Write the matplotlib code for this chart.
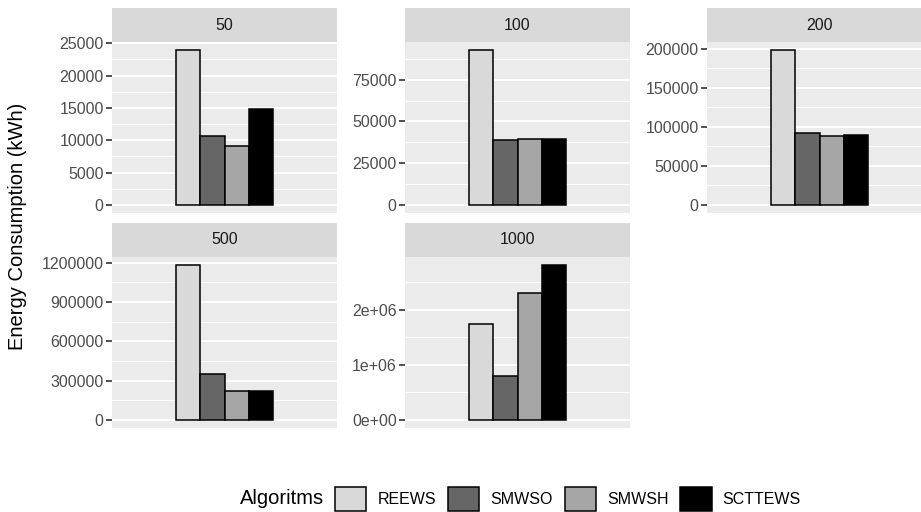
import numpy as np
import matplotlib
matplotlib.use("Agg")
import matplotlib.pyplot as plt
from matplotlib.patches import Patch
from matplotlib.ticker import MultipleLocator, FuncFormatter

plt.rcParams["font.family"] = ["Liberation Sans", "DejaVu Sans"]

# ── Data ──────────────────────────────────────────────────────────────────
PANELS = ["50", "100", "200", "500", "1000"]
ALGORITHMS = ["REEWS", "SMWSO", "SMWSH", "SCTTEWS"]
FILLS = ["#D9D9D9", "#666666", "#A6A6A6", "#000000"]

energy_50 = [24000, 10600, 9100, 14800]
energy_100 = [92900, 38600, 39400, 39600]
energy_200 = [199000, 92000, 88700, 89500]
energy_500 = [1185000, 349000, 220000, 218000]
energy_1000 = [1748000, 803000, 2295000, 2816000]
ENERGY = [energy_50, energy_100, energy_200, energy_500, energy_1000]

TICK_STEP = [5000, 25000, 50000, 300000, 1000000]

# ── Layout (figure pixels) ────────────────────────────────────────────────
W, H = 921, 512
COL_LEFT = [112, 405, 707]
PANEL_W = 225
ROWS = [(42, 212.7), (257, 427.7)]   # (top, bottom) of panel area
STRIP_H = 34

GREY_TXT = "#4D4D4D"
fig = plt.figure(figsize=(W / 100, H / 100), dpi=100)

BAR_W = 0.13
offsets = (np.arange(len(ALGORITHMS)) - 1.5) * BAR_W

for i, (name, vals) in enumerate(zip(PANELS, ENERGY)):
    r, c = divmod(i, 3)
    top, bot = ROWS[r]
    left = COL_LEFT[c]
    ax = fig.add_axes([left / W, 1 - bot / H, PANEL_W / W, (bot - top) / H])
    ax.set_facecolor("#EBEBEB")
    for s in ax.spines.values():
        s.set_visible(False)

    ax.bar(1 + offsets, vals, width=BAR_W, color=FILLS,
           edgecolor="black", linewidth=1.1, zorder=3)

    vmax = max(vals)
    ax.set_xlim(0.4, 1.6)
    ax.set_ylim(-0.05 * vmax, 1.05 * vmax)
    step = TICK_STEP[i]
    ax.yaxis.set_major_locator(MultipleLocator(step))
    ax.yaxis.set_minor_locator(MultipleLocator(step / 2))
    if name == "1000":
        ax.yaxis.set_major_formatter(FuncFormatter(lambda v, p: f"{v:.0e}"))
    else:
        ax.yaxis.set_major_formatter(FuncFormatter(lambda v, p: f"{v:.0f}"))
    ax.set_xticks([])
    ax.grid(axis="y", which="major", color="white", linewidth=1.4, zorder=0)
    ax.grid(axis="y", which="minor", color="white", linewidth=0.7, zorder=0)
    ax.tick_params(axis="y", which="major", length=4, width=1.2,
                   color="#333333", labelcolor=GREY_TXT, labelsize=11.5, pad=2)
    ax.tick_params(axis="y", which="minor", length=0)
    ax.set_axisbelow(True)

    # facet strip
    sax = fig.add_axes([left / W, 1 - top / H, PANEL_W / W, STRIP_H / H])
    sax.set_facecolor("#D9D9D9")
    sax.set_xticks([])
    sax.set_yticks([])
    for s in sax.spines.values():
        s.set_visible(False)
    sax.text(0.5, 0.5, name, ha="center", va="center",
             fontsize=11.5, color="#1A1A1A", transform=sax.transAxes)

fig.text(18 / W, 1 - 226 / H, "Energy Consumption (kWh)", rotation=90,
         ha="center", va="center", fontsize=14.5, color="black")

# ── Legend ────────────────────────────────────────────────────────────────
handles = [Patch(facecolor=f, edgecolor="black", linewidth=1.1) for f in FILLS]
fig.text(240 / W, 1 - 499 / H, "Algoritms", ha="left", va="center",
         fontsize=14.5, color="black")
fig.legend(handles, ALGORITHMS, loc="center left",
           bbox_to_anchor=(335 / W, 1 - 499 / H), ncol=4, frameon=False,
           fontsize=11.5, handlelength=1.95, handleheight=1.95,
           handletextpad=0.7, columnspacing=0.75, borderpad=0, borderaxespad=0)

fig.savefig("out.png", dpi=100)
